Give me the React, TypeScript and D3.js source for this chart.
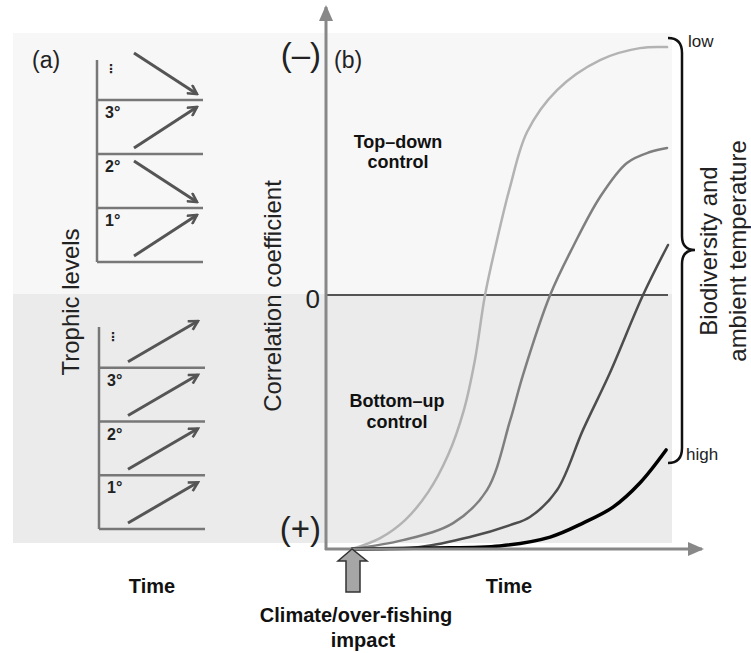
import * as d3 from "d3";

// ---- data ----
// panel (b): correlation between trophic levels over time, one curve per
// biodiversity / temperature level (low -> high)
const curveNames = ["low", "mid-low", "mid-high", "high"];
const curveColors = ["#b3b3b3", "#7f7f7f", "#4d4d4d", "#000000"];
const curveWidths = [2.5, 2.5, 2.5, 3.5];

const lowTime = [0, 8.9, 16.8, 24.1, 30.4, 35.4, 38.9, 42.1, 45.9, 50, 55.4, 64.9, 78.5, 91.1, 99.7];
const lowCorr = [1, 0.957, 0.886, 0.776, 0.63, 0.453, 0.256, 0, -0.217, -0.425, -0.642, -0.807, -0.925, -0.972, -0.976];

const midLowTime = [0, 16.1, 32, 42.7, 50, 54.1, 62.7, 69.9, 78.5, 87, 94.3, 99.7];
const midLowCorr = [1, 0.965, 0.898, 0.768, 0.496, 0.315, 0, -0.189, -0.386, -0.52, -0.563, -0.579];

const midHighTime = [0, 21.5, 37.3, 50, 56.3, 64.9, 73.1, 81.6, 92.1, 100];
const midHighCorr = [1, 0.992, 0.953, 0.906, 0.874, 0.768, 0.531, 0.307, 0, -0.197];

const highTime = [0, 24.7, 46.8, 62.7, 73.1, 82.6, 91.1, 99.4];
const highCorr = [1, 0.996, 0.988, 0.953, 0.898, 0.835, 0.74, 0.61];

const corrTicks = [-1, 0, 1];
const corrTickLabels = ["(\u2013)", "0", "(+)"];

// panel (a): trophic levels and direction of change (+1 up, -1 down)
const trophicLevels = ["\u22ee", "3°", "2°", "1°"];
const topDownResponse = [-1, 1, -1, 1];
const bottomUpResponse = [1, 1, 1, 1];

const FONT = "'Liberation Sans', Arial, Helvetica, sans-serif";
const W = 751;
const H = 653;

const x = d3.scaleLinear().domain([0, 100]).range([352, 668]);
const y = d3.scaleLinear().domain([-1, 1]).range([41, 549]);

const axisX = 326;
const axisY = 549;

const series = [
  { time: lowTime, corr: lowCorr },
  { time: midLowTime, corr: midLowCorr },
  { time: midHighTime, corr: midHighCorr },
  { time: highTime, corr: highCorr },
];

const line = d3
  .line<[number, number]>()
  .x((d) => x(d[0]))
  .y((d) => y(d[1]))
  .curve(d3.curveCatmullRom.alpha(0.5));

interface BlockProps {
  response: number[];
  axisLeft: number;
  axisTop: number;
  rowTop: number;
  rowBottom: number;
  right: number;
  arrowX: [number, number];
}

function TrophicBlock({ response, axisLeft, axisTop, rowTop, rowBottom, right, arrowX }: BlockProps) {
  const band = d3.scaleBand().domain(trophicLevels).range([rowTop, rowBottom]);
  const bw = band.bandwidth();
  const bottom = rowBottom;
  return (
    <g>
      <line x1={axisLeft} x2={axisLeft} y1={axisTop} y2={bottom} stroke="#777" strokeWidth={2.5} />
      {trophicLevels.map((lvl, i) => {
        const y0 = band(lvl) as number;
        const y1 = y0 + bw;
        const r = d3.scaleLinear().domain([-1, 1]).range([y1 - 6, y0 + 7]);
        const dir = response[i];
        const isDots = lvl === "\u22ee";
        return (
          <g key={lvl}>
            <line x1={axisLeft} x2={right} y1={y1} y2={y1} stroke="#777" strokeWidth={2.5} />
            <text
              x={axisLeft + (isDots ? 8 : 8)}
              y={isDots ? y0 + 27 : y0 + 18}
              fontFamily={isDots ? "DejaVu Sans, sans-serif" : FONT}
              fontWeight="bold"
              fontSize={isDots ? 12 : 16}
              fill="#222"
            >
              {lvl}
            </text>
            <line
              x1={arrowX[0]}
              y1={r(-dir)}
              x2={arrowX[1]}
              y2={r(dir)}
              stroke="#555"
              strokeWidth={3}
              markerEnd="url(#chev)"
            />
          </g>
        );
      })}
    </g>
  );
}

export default function App() {
  const bracePath =
    "M668,38 Q682,38 682,53 L682,236 Q682,250 695,250 Q682,250 682,264 L682,448 Q682,463 668,463";
  const impactX = x(0);
  const impactArrow = [
    [impactX, axisY],
    [impactX - 14, axisY + 12],
    [impactX - 6, axisY + 12],
    [impactX - 6, axisY + 43],
    [impactX + 8, axisY + 43],
    [impactX + 8, axisY + 12],
    [impactX + 15, axisY + 12],
  ];
  return (
    <svg
      width={W}
      height={H}
      viewBox={`0 0 ${W} ${H}`}
      style={{ position: "absolute", left: 0, top: 0, background: "#fff" }}
      fontFamily={FONT}
    >
      <defs>
        <marker id="chev" viewBox="0 0 12 12" refX={10} refY={6} markerWidth={12} markerHeight={12} markerUnits="userSpaceOnUse" orient="auto">
          <path d="M1,1 L10,6 L1,11" fill="none" stroke="#555" strokeWidth={2.6} />
        </marker>
        <marker id="tri" viewBox="0 0 16 14" refX={14} refY={7} markerWidth={16} markerHeight={14} markerUnits="userSpaceOnUse" orient="auto">
          <path d="M0,0 L16,7 L0,14 Z" fill="#888" />
        </marker>
      </defs>

      {/* shaded bands */}
      <rect x={13} y={y(-1) - 8} width={659} height={y(0) - y(-1) + 8} fill="#f7f7f7" />
      <rect x={13} y={y(0) - 1} width={659} height={543 - y(0) + 1} fill="#ebebeb" />

      {/* panel (a) */}
      <text x={32} y={68} fontSize={23} fill="#222">(a)</text>
      <TrophicBlock response={topDownResponse} axisLeft={97} axisTop={60} rowTop={46} rowBottom={262} right={203} arrowX={[134, 197]} />
      <TrophicBlock response={bottomUpResponse} axisLeft={99} axisTop={327} rowTop={314} rowBottom={529} right={205} arrowX={[128, 198]} />
      <text transform="translate(79,302) rotate(-90)" textAnchor="middle" fontSize={24} fill="#222">
        Trophic levels
      </text>
      <text x={152} y={593} textAnchor="middle" fontSize={20} fontWeight="bold" fill="#111">Time</text>

      {/* panel (b) */}
      <text x={334} y={68} fontSize={23} fill="#222">(b)</text>
      <line x1={axisX} x2={668} y1={y(0)} y2={y(0)} stroke="#222" strokeWidth={1.5} />
      {series.map((s, i) => (
        <path
          key={curveNames[i]}
          d={line(s.time.map((t, j) => [t, s.corr[j]] as [number, number])) || ""}
          fill="none"
          stroke={curveColors[i]}
          strokeWidth={curveWidths[i]}
          strokeLinecap="round"
        />
      ))}
      <line x1={axisX} y1={axisY + 1} x2={axisX} y2={7} stroke="#888" strokeWidth={3} markerEnd="url(#tri)" />
      <line x1={axisX - 1} y1={axisY} x2={702} y2={axisY} stroke="#888" strokeWidth={3} markerEnd="url(#tri)" />
      {corrTicks.map((c, i) => (
        <text
          key={c}
          x={i === 1 ? 320 : 321}
          y={y(c) + [25, 13, -9][i]}
          textAnchor="end"
          fontSize={i === 1 ? 26 : 33}
          fill="#222"
        >
          {corrTickLabels[i]}
        </text>
      ))}
      <text transform="translate(281,296) rotate(-90)" textAnchor="middle" fontSize={24} fill="#222">
        Correlation coefficient
      </text>
      <text x={398} y={148} textAnchor="middle" fontSize={18} fontWeight="bold" fill="#111">Top–down</text>
      <text x={398} y={168} textAnchor="middle" fontSize={18} fontWeight="bold" fill="#111">control</text>
      <text x={397} y={407} textAnchor="middle" fontSize={18} fontWeight="bold" fill="#111">Bottom–up</text>
      <text x={397} y={428} textAnchor="middle" fontSize={18} fontWeight="bold" fill="#111">control</text>

      {/* impact arrow */}
      <polygon points={impactArrow.map((p) => p.join(",")).join(" ")} fill="#a6a6a6" stroke="#333" strokeWidth={1.5} />
      <text x={509} y={593} textAnchor="middle" fontSize={20} fontWeight="bold" fill="#111">Time</text>
      <text x={356} y={622} textAnchor="middle" fontSize={20} fontWeight="bold" fill="#111">Climate/over-fishing</text>
      <text x={363} y={647} textAnchor="middle" fontSize={20} fontWeight="bold" fill="#111">impact</text>

      {/* brace and labels */}
      <path d={bracePath} fill="none" stroke="#111" strokeWidth={2.5} />
      <text x={688} y={47} fontSize={17} fill="#222">low</text>
      <text x={686} y={460} fontSize={17} fill="#222">high</text>
      <text transform="translate(717,251) rotate(-90)" textAnchor="middle" fontSize={24} fill="#222">
        Biodiversity and
      </text>
      <text transform="translate(746,251) rotate(-90)" textAnchor="middle" fontSize={24} fill="#222">
        ambient temperature
      </text>
    </svg>
  );
}
